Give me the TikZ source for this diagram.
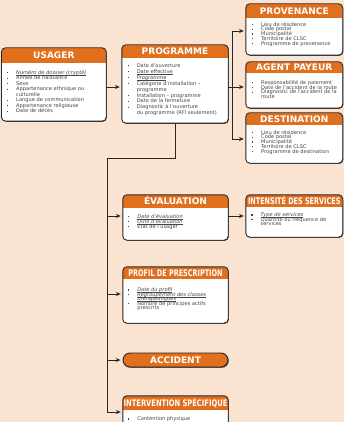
\documentclass[tikz,border=0pt]{standalone}
\usepackage{fontspec}
\usepackage{graphicx}
\setmainfont{DejaVu Sans}
\usetikzlibrary{arrows.meta,fit,calc}
\definecolor{bgc}{HTML}{FBE3D2}
\definecolor{orc}{HTML}{E1701E}
\definecolor{edgec}{HTML}{262626}
\definecolor{shadowc}{HTML}{555555}
\definecolor{txtc}{HTML}{454545}
\setlength{\lineskiplimit}{-10pt}
\newcommand\bul{\makebox[9.3pt][l]{\raisebox{1pt}{\rule{1.3pt}{1.3pt}}}}
\newcommand\cnt{\hspace*{9.3pt}}
\newcommand\ulx[1]{\setbox0\hbox{#1}\rlap{\rule[-0.7pt]{\wd0}{0.3pt}}\box0}
\newcommand\uli[1]{\ulx{\itshape #1}}
\newcommand\umlbox[7]{%
  \fill[shadowc,rounded corners=4pt] ({#2+0.8},{#3+0.8}) rectangle ({#4+0.8},{#5+0.8});
  \node[fit={(#2,#3) (#4,#5)}, inner sep=0pt, fill=white, rounded corners=4pt] (#1) {};
  \begin{scope}
    \clip[rounded corners=4pt] (#2,#3) rectangle (#4,#5);
    \fill[orc] (#2,#3) rectangle (#4,#6);
  \end{scope}
  \draw[boxedge,rounded corners=4pt] (#1.north west) rectangle (#1.south east);
  \node[titlest] (#1-title) at ({(#2+#4)/2},{(#3+#6)/2+3.3}) {#7};
}
\tikzset{
  boxedge/.style={draw=edgec, line width=0.9pt},
  titlest/.style={anchor=base, inner sep=0pt, text=white, font=\fontsize{9}{10}\selectfont\bfseries},
  bodyst/.style={anchor=north west, inner sep=0pt, align=left, text=txtc, font=\fontsize{5.1}{#1}\selectfont},
  conn/.style={draw=edgec, line width=0.8pt},
  arr/.style={conn, -{Stealth[open, length=5pt, width=4.2pt, inset=1.8pt]}, shorten >=2pt}
}
\begin{document}
\begin{tikzpicture}[x=1pt,y=-1pt]
\useasboundingbox (0,0) rectangle (344,422);
\fill[bgc] (0,0) rectangle (344,422);
\begin{scope}
\clip (0,0) rectangle (344,422);

% USAGER
\umlbox{usager}{1.7}{48}{106}{121}{63}{USAGER}
\node[bodyst=5.5] (usager-body) at (6.7,70.2) {%
\bul\uli{Numéro de dossier (crypté)}\\
\bul Année de naissance\\
\bul Sexe\\
\bul Appartenance ethnique ou\\
\cnt culturelle\\
\bul Langue de communication\\
\bul Appartenance religieuse\\
\bul Date de décès};

% PROGRAMME
\umlbox{programme}{122}{45}{228}{123}{58}{PROGRAMME}
\node[bodyst=5.95] (programme-body) at (127.3,63.2) {%
\bul Date d'ouverture\\
\bul\ulx{Date effective}\\
\bul\ulx{Programme}\\
\bul Catégorie d'installation –\\
\cnt programme\\
\bul Installation – programme\\
\bul Date de la fermeture\\
\bul Diagnostic à l'ouverture\\
\cnt du programme (RFI seulement)};

% PROVENANCE
\umlbox{provenance}{246}{4}{342.5}{55}{18}{PROVENANCE}
\node[bodyst=4.75] (provenance-body) at (251.7,21.8) {%
\bul Lieu de résidence\\
\bul Code postal\\
\bul Municipalité\\
\bul Territoire de CLSC\\
\bul Programme de provenance};

% AGENT PAYEUR
\umlbox{agent}{246}{62}{342.5}{108}{73}{AGENT PAYEUR}
\node[bodyst=4.75] (agent-body) at (251.7,80.2) {%
\bul Responsabilité de paiement\\
\bul Date de l'accident de la route\\
\bul Diagnostic de l'accident de la\\
\cnt route};

% DESTINATION
\umlbox{destination}{246}{113}{342.5}{163}{125}{DESTINATION}
\node[bodyst=4.75] (destination-body) at (251.7,129.8) {%
\bul Lieu de résidence\\
\bul Code postal\\
\bul Municipalité\\
\bul Territoire de CLSC\\
\bul Programme de destination};

% EVALUATION
\umlbox{evaluation}{123}{195}{228}{240}{208}{ÉVALUATION}
\node[bodyst=5.0] (evaluation-body) at (127.8,214.2) {%
\bul\uli{Date d'évaluation}\\
\bul\uli{Outil d'évaluation}\\
\bul État de l'usager};

% INTENSITE
\umlbox{intensite}{246}{195}{342.5}{237}{207}{\scalebox{0.72}[1]{INTENSITÉ DES SERVICES}}
\node[bodyst=4.5] (intensite-body) at (251.2,212.5) {%
\bul\uli{Type de services}\\
\bul Quantité ou fréquence de\\
\cnt services};

% PROFIL
\umlbox{profil}{123}{267}{228}{323}{279}{\scalebox{0.72}[1]{PROFIL DE PRESCRIPTION}}
\node[bodyst=4.6] (profil-body) at (127.8,287.5) {%
\bul\uli{Date du profil}\\
\bul\uli{Regroupement des classes}\\
\cnt\uli{thérapeutiques}\\
\bul Nombre de principes actifs\\
\cnt prescrits};

% ACCIDENT
\fill[shadowc,rounded corners=7pt] (123.8,353.8) rectangle (228.8,367.8);
\node[fit={(123,353) (228,367)}, inner sep=0pt, fill=orc, draw=edgec, line width=0.9pt, rounded corners=7pt] (accident) {};
\node[titlest] (accident-title) at (175.5,363.3) {ACCIDENT};

% INTERVENTION
\umlbox{intervention}{123}{396}{228}{445}{410}{\scalebox{0.75}[1]{INTERVENTION SPÉCIFIQUE}}
\node[bodyst=5.0] (intervention-body) at (127.8,416.5) {%
\bul Contention physique};

% connectors
\coordinate (jR) at (232,87);
\coordinate (busT) at (232,31);
\coordinate (busB) at (232,139);
\draw[arr] (usager.east |- 0,87) -- (programme.west |- 0,87);
\draw[conn] (programme.east |- jR) -- (jR);
\draw[conn] (busT) -- (busB);
\draw[arr] (busT) -- (provenance.west |- busT);
\draw[arr] (jR) -- (agent.west |- jR);
\draw[arr] (busB) -- (destination.west |- busB);

\coordinate (lbT) at (107,158);
\coordinate (lbB) at (107,412);
\coordinate (lbE) at (107,216);
\coordinate (lbP) at (107,294);
\coordinate (lbA) at (107,360);
\draw[conn] (programme.south) |- (lbT) -- (lbB);
\draw[arr] (lbE) -- (evaluation.west |- lbE);
\draw[arr] (lbP) -- (profil.west |- lbP);
\draw[arr] (lbA) -- (accident.west |- lbA);
\draw[arr] (lbB) -- (intervention.west |- lbB);
\draw[arr] (evaluation.east |- 0,216) -- (intensite.west |- 0,216);
\end{scope}
\end{tikzpicture}
\end{document}
